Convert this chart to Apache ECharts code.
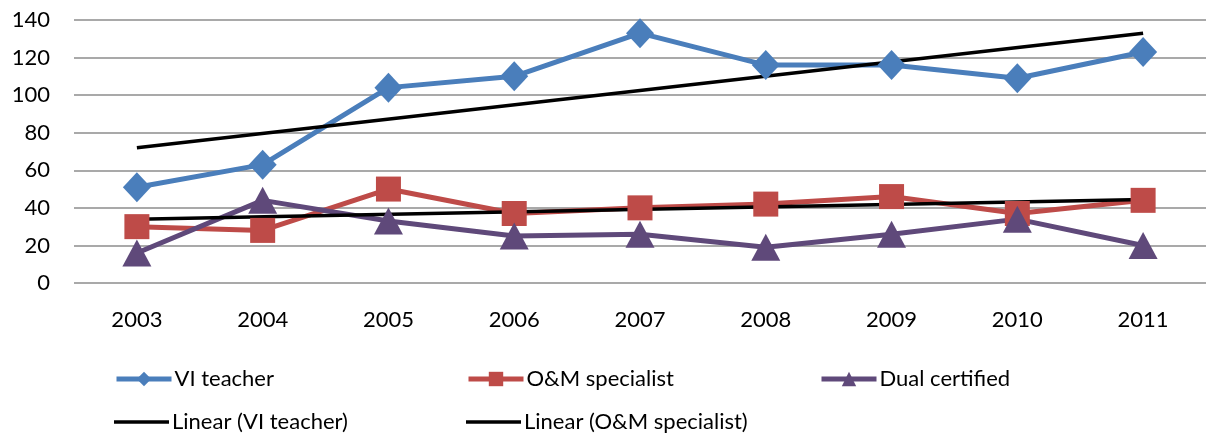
<!DOCTYPE html>
<html>
<head>
<meta charset="utf-8">
<script src="https://cdn.jsdelivr.net/npm/echarts@6/dist/echarts.min.js"></script>
<style>
  html, body { margin: 0; padding: 0; background: #fff; }
  #chart { width: 1206px; height: 434px; }
</style>
</head>
<body>
<div id="chart"></div>
<script>
// years on x axis
const years = ['2003', '2004', '2005', '2006', '2007', '2008', '2009', '2010', '2011'];
const yTicks = [0, 20, 40, 60, 80, 100, 120, 140];

const viTeacher = [51, 63, 104, 110, 133, 116, 116, 109, 123];
const omSpecialist = [30, 28, 50, 37, 40, 42, 46, 37, 44];
const dualCertified = [16, 44, 33, 25, 26, 19, 26, 34, 20];

// trend lines
const linearVI = [72, null, null, null, null, null, null, null, 133];
const linearOM = [34, null, null, null, null, null, null, null, 44.5];

const FONT = 'Lato';
const chart = echarts.init(document.getElementById('chart'));

// one legend per item so the columns line up like the original
function legendAt(name, left, top, trend) {
    let lg = {
        data: [name],
        left: left,
        top: top,
        itemWidth: 55,
        itemHeight: 18,
        itemGap: 0,
        lineStyle: {width: 5},
        textStyle: {fontFamily: FONT, fontSize: 22, color: '#000', padding: [0, 0, 0, -2]}
    };
    if (trend) {
        lg.icon = 'rect';
        lg.itemHeight = 3.5;
    }
    return lg;
}

chart.setOption({
    animation: false,
    grid: {left: 74, right: -6, top: 20, bottom: 151},
    legend: [
        legendAt('VI teacher', 109, 363),
        legendAt('O&M specialist', 461, 363),
        legendAt('Dual certified', 814, 363),
        legendAt('Linear (VI teacher)', 109, 406, true),
        legendAt('Linear (O&M specialist)', 461, 406, true)
    ],
    xAxis: {
        type: 'category',
        data: years,
        boundaryGap: true,
        axisLine: {show: false},
        axisTick: {show: false},
        axisLabel: {fontFamily: FONT, fontSize: 22, color: '#000', margin: 26}
    },
    yAxis: {
        type: 'value',
        min: yTicks[0],
        max: yTicks[yTicks.length - 1],
        interval: 20,
        axisLine: {show: false},
        axisTick: {show: false},
        axisLabel: {fontFamily: FONT, fontSize: 22, color: '#000', margin: 24},
        splitLine: {lineStyle: {color: '#8c8c8c', width: 1.5}}
    },
    series: [
        {
            name: 'VI teacher', type: 'line', data: viTeacher,
            symbol: 'diamond', symbolSize: [28, 30],
            lineStyle: {color: '#4A7EBB', width: 5},
            itemStyle: {color: '#4A7EBB'}
        },
        {
            name: 'O&M specialist', type: 'line', data: omSpecialist,
            symbol: 'rect', symbolSize: 25,
            lineStyle: {color: '#BE4B48', width: 5},
            itemStyle: {color: '#BE4B48'}
        },
        {
            name: 'Dual certified', type: 'line', data: dualCertified,
            symbol: 'triangle', symbolSize: [29, 27],
            lineStyle: {color: '#5F497A', width: 5},
            itemStyle: {color: '#5F497A'}
        },
        {
            name: 'Linear (VI teacher)', type: 'line', data: linearVI,
            connectNulls: true, showSymbol: false, symbol: 'none',
            lineStyle: {color: '#000', width: 3.5},
            itemStyle: {color: '#000'}
        },
        {
            name: 'Linear (O&M specialist)', type: 'line', data: linearOM,
            connectNulls: true, showSymbol: false, symbol: 'none',
            lineStyle: {color: '#000', width: 3.5},
            itemStyle: {color: '#000'}
        }
    ]
});
</script>
</body>
</html>
